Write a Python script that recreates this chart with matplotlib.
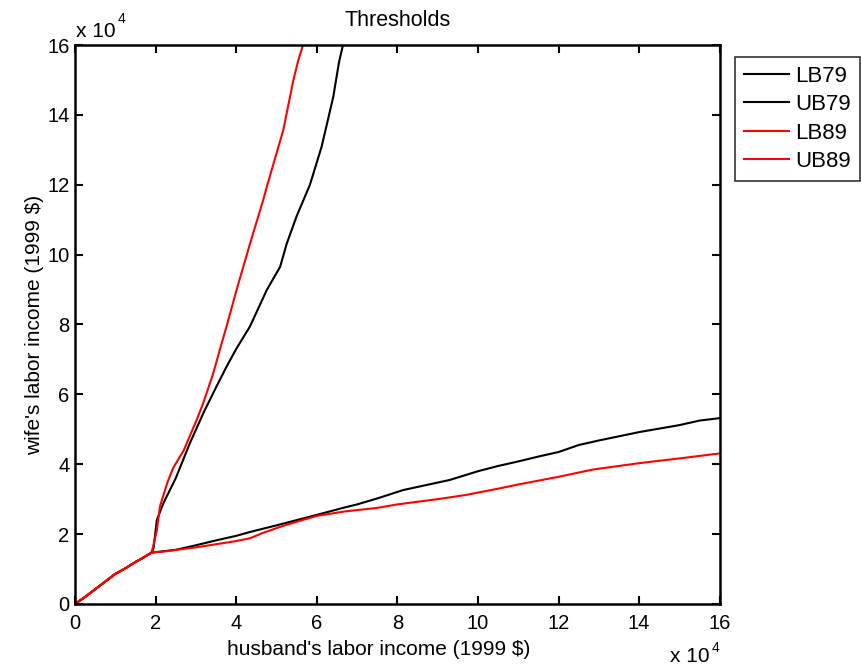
import numpy as np
import matplotlib
matplotlib.use("Agg")
import matplotlib.pyplot as plt

plt.rcParams["font.family"] = ["Liberation Sans", "DejaVu Sans"]

# values in units of 1e4 (1999 $)
shared_x = [0, 0.25, 0.5, 0.75, 1.0, 1.25, 1.5, 1.7, 1.9]
shared_y = [0, 0.2, 0.42, 0.64, 0.86, 1.02, 1.2, 1.33, 1.47]

lb79_x = [2.5, 3.0, 3.5, 4.0, 4.34, 5.0, 5.5, 6.0, 6.65, 7.0, 7.5, 8.14, 9.3, 10.0,
          10.5, 11.0, 11.5, 12.0, 12.5, 13.0, 13.5, 14.0, 14.5, 15.0, 15.5, 16.0]
lb79_y = [1.55, 1.68, 1.82, 1.95, 2.06, 2.25, 2.4, 2.55, 2.75, 2.85, 3.02, 3.26, 3.55, 3.8,
          3.95, 4.08, 4.22, 4.35, 4.55, 4.68, 4.8, 4.92, 5.02, 5.12, 5.25, 5.32]

ub79_x = [1.95, 2.03, 2.2, 2.5, 2.85, 3.2, 3.5, 3.76, 4.0, 4.34, 4.76, 5.09, 5.25,
          5.5, 5.83, 6.12, 6.41, 6.55, 6.65, 6.7]
ub79_y = [1.6, 2.4, 2.9, 3.6, 4.6, 5.5, 6.2, 6.79, 7.3, 7.94, 8.99, 9.65, 10.3,
          11.1, 12.0, 13.09, 14.52, 15.5, 16.0, 16.5]

lb89_x = [2.2, 3.0, 4.0, 4.34, 4.7, 5.2, 6.0, 6.7, 7.5, 8.0, 9.0, 9.7, 10.5, 11.0,
          12.0, 12.86, 14.0, 15.17, 16.0]
lb89_y = [1.5, 1.62, 1.8, 1.88, 2.05, 2.25, 2.52, 2.65, 2.75, 2.85, 3.0, 3.12, 3.3, 3.42,
          3.64, 3.85, 4.03, 4.19, 4.31]

ub89_x = [1.95, 2.03, 2.11, 2.3, 2.44, 2.7, 3.02, 3.18, 3.43, 3.6, 3.76, 4.01, 4.34,
          4.67, 4.76, 5.17, 5.42, 5.55, 5.66, 5.7]
ub89_y = [1.7, 2.1, 2.8, 3.5, 3.9, 4.4, 5.27, 5.74, 6.6, 7.3, 7.94, 8.99, 10.3,
          11.56, 11.94, 13.57, 15.0, 15.6, 16.0, 16.5]

ticks = [0, 2, 4, 6, 8, 10, 12, 14, 16]
scale = 1e4

fig = plt.figure(figsize=(8.62, 6.67), dpi=100)
ax = fig.add_axes([0.087, 0.0945, 0.748, 0.838])

series = [
    ("LB79", lb79_x, lb79_y, "black"),
    ("UB79", ub79_x, ub79_y, "black"),
    ("LB89", lb89_x, lb89_y, "red"),
    ("UB89", ub89_x, ub89_y, "red"),
]
for name, xs, ys, col in series:
    x = np.array(shared_x + xs) * scale
    y = np.array(shared_y + ys) * scale
    ax.plot(x, y, color=col, lw=1.5, label=name)

ax.set_xlim(0, 16 * scale)
ax.set_ylim(0, 16 * scale)
ax.set_xticks([t * scale for t in ticks])
ax.set_xticklabels([str(t) for t in ticks])
ax.set_yticks([t * scale for t in ticks])
ax.set_yticklabels([str(t) for t in ticks])
ax.tick_params(direction="in", top=True, right=True, length=6, width=1.5,
               labelsize=14.5)
ax.tick_params(axis="x", pad=7)
ax.tick_params(axis="y", pad=4)
for sp in ax.spines.values():
    sp.set_linewidth(1.8)

ax.set_title("Thresholds", fontsize=15.5, pad=14)
ax.set_xlabel("husband's labor income (1999 $)", fontsize=15)
ax.xaxis.set_label_coords(0.471, -0.064)
ax.set_ylabel("wife's labor income (1999 $)", fontsize=15, labelpad=2)

# exponent labels, drawn the way MATLAB does
fig.text(76 / 862, 1 - 37 / 667, "x 10", fontsize=15, ha="left", va="baseline")
fig.text(118 / 862, 1 - 23 / 667, "4", fontsize=10, ha="left", va="baseline")
fig.text(670 / 862, 1 / 667, "x 10", fontsize=15, ha="left", va="bottom")
fig.text(712 / 862, 1 - 652 / 667, "4", fontsize=10, ha="left", va="baseline")

leg = fig.legend(loc="upper left", bbox_to_anchor=(735 / 862, 1 - 57 / 667), fontsize=16,
                 frameon=True, fancybox=False, edgecolor="black", handlelength=2.05,
                 handletextpad=0.25, borderpad=0.4, labelspacing=0.33, borderaxespad=0)
leg.get_frame().set_linewidth(1.2)

fig.savefig("out.png", dpi=100)
